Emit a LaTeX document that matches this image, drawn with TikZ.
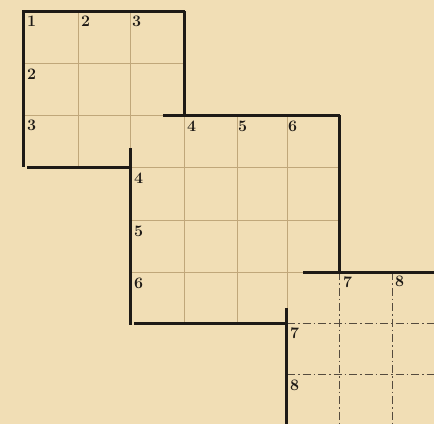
\documentclass[tikz,border=0pt]{standalone}
\definecolor{paper}{RGB}{241,222,181}
\definecolor{tan}{RGB}{192,167,122}
\definecolor{ink}{RGB}{30,26,22}
\definecolor{dink}{RGB}{85,75,62}
\begin{document}
\begin{tikzpicture}[x=1pt,y=-1pt,
  thin grid/.style={draw=tan,line width=1pt},
  dash grid/.style={draw=dink,line width=0.8pt,dash pattern=on 8pt off 3pt on 1.5pt off 3pt},
  bold/.style={draw=ink,line width=3pt},
  lab/.style={anchor=north west,inner sep=0pt,text=ink,font=\fontsize{16}{18}\selectfont\bfseries}]
\fill[paper] (0,0) rectangle (434,424);
\useasboundingbox (0,0) rectangle (434,424);
% lattice
\def\xa{23}\def\xb{78}\def\xc{130}\def\xd{184}\def\xe{237}\def\xf{287}\def\xg{339}\def\xh{392}
\def\ya{11}\def\yb{63}\def\yc{115}\def\yd{167}\def\ye{220}\def\yf{272}\def\yg{323}\def\yh{374}
% grid 1 thin
\draw[thin grid] (\xb,\ya) -- (\xb,\yd) (\xc,\ya) -- (\xc,\yd);
\draw[thin grid] (\xa,\yb) -- (\xd,\yb) (\xa,\yc) -- (\xd,\yc);
% grid 2 thin
\draw[thin grid] (\xd,\yc) -- (\xd,\yg) (\xe,\yc) -- (\xe,\yg) (\xf,\yc) -- (\xf,\yg);
\draw[thin grid] (\xc,\yd) -- (\xg,\yd) (\xc,\ye) -- (\xg,\ye) (\xc,\yf) -- (\xg,\yf);
% grid 3 dashed
\draw[dash grid] (\xg,\yf) -- (\xg,424) (\xh,\yf) -- (\xh,424);
\draw[dash grid] (\xf,\yg) -- (434,\yg) (\xf,\yh) -- (434,\yh);
% bold outlines
\draw[bold] (\xa-1,\ya) -- (\xd+1,\ya);
\draw[bold] (\xa,\ya) -- (\xa,\yd);
\draw[bold] (\xd,\ya) -- (\xd,\yc);
\draw[bold] (\xa+4,\yd) -- (\xc,\yd);
\draw[bold] (163,\yc) -- (\xg+1,\yc);
\draw[bold] (\xg,\yc) -- (\xg,\yf);
\draw[bold] (\xc,148) -- (\xc,325);
\draw[bold] (\xc+4,\yg) -- (\xf,\yg);
\draw[bold] (303,\yf) -- (434,\yf);
\draw[bold] (\xf-1,308) -- (\xf-1,424);
% labels grid 1
\node[lab] (c1) at (\xa+4,\ya+5) {1};
\node[lab] (c2) at (\xb+3,\ya+5) {2};
\node[lab] (c3) at (\xc+2,\ya+5) {3};
\node[lab] (r2) at (\xa+4,\yb+6) {2};
\node[lab] (r3) at (\xa+4,\yc+5) {3};
% labels grid 2
\node[lab] (c4) at (\xd+3,\yc+6) {4};
\node[lab] (c5) at (\xe+1,\yc+6) {5};
\node[lab] (c6) at (\xf+1,\yc+6) {6};
\node[lab] (r4) at (\xc+4,\yd+6) {4};
\node[lab] (r5) at (\xc+4,\ye+6) {5};
\node[lab] (r6) at (\xc+4,\yf+6) {6};
% labels grid 3
\node[lab] (c7) at (\xg+4,\yf+4) {7};
\node[lab] (c8) at (\xh+3,\yf+4) {8};
\node[lab] (r7) at (\xf+3,\yg+4) {7};
\node[lab] (r8) at (\xf+3,\yh+6) {8};
\end{tikzpicture}
\end{document}
